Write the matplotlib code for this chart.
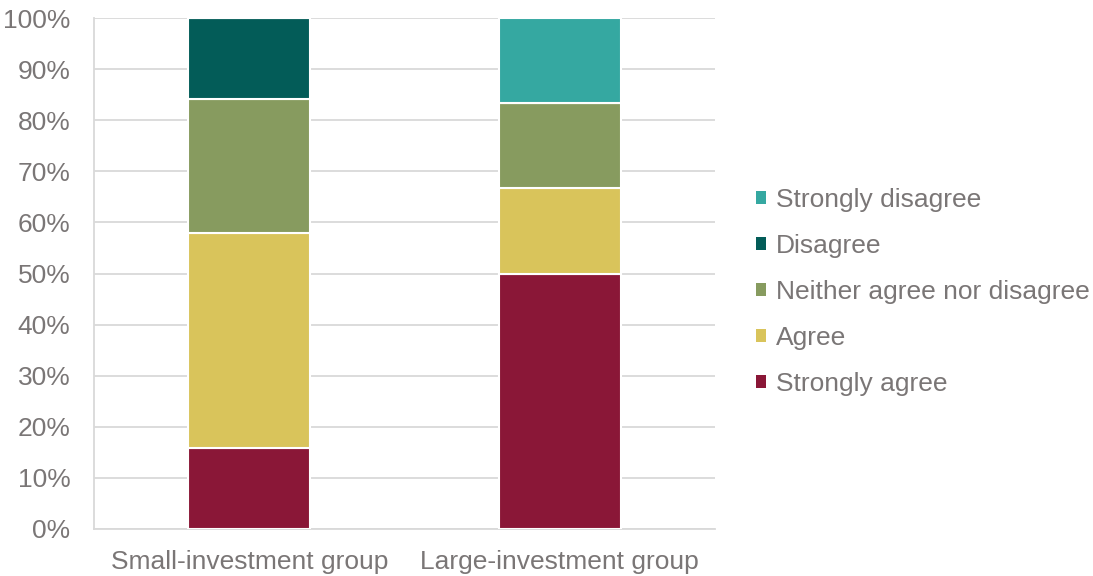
import matplotlib
matplotlib.use("Agg")
import matplotlib.pyplot as plt
from matplotlib.patches import Patch
from matplotlib.ticker import MultipleLocator, PercentFormatter

plt.rcParams['font.family'] = ['Liberation Sans', 'DejaVu Sans']

groups = ["Small-investment group", "Large-investment group"]
categories = ["Strongly agree", "Agree", "Neither agree nor disagree", "Disagree", "Strongly disagree"]
small_group = [15.8, 42.1, 26.3, 15.8, 0.0]
large_group = [50.0, 16.7, 16.7, 0.0, 16.6]
colors = ["#8A1737", "#D9C45B", "#879B5F", "#035C58", "#35A8A1"]

text_color = "#7A7676"
grid_color = "#D9D9D9"

fig = plt.figure(figsize=(10.93, 5.76), dpi=100)
ax = fig.add_axes([94 / 1093, 1 - 529 / 576, (715 - 94) / 1093, (529 - 18) / 576])

x = range(len(groups))
bottoms = [0.0, 0.0]
for i, cat in enumerate(categories):
    vals = [small_group[i], large_group[i]]
    ax.bar(x, vals, width=0.393, bottom=bottoms, color=colors[i],
           edgecolor="white", linewidth=1.5, zorder=3, label=cat)
    bottoms = [b + v for b, v in zip(bottoms, vals)]

ax.set_xlim(-0.5, 1.5)
ax.set_ylim(0, 100)
ax.yaxis.set_major_locator(MultipleLocator(10))
ax.yaxis.set_major_formatter(PercentFormatter(decimals=0))
ax.set_xticks(list(x))
ax.set_xticklabels(groups)
ax.grid(axis="y", color=grid_color, linewidth=1.3, zorder=0)
for side in ["top", "right"]:
    ax.spines[side].set_visible(False)
for side in ["left", "bottom"]:
    ax.spines[side].set_color(grid_color)
    ax.spines[side].set_linewidth(1.3)
ax.tick_params(axis="both", length=0, labelsize=19, colors=text_color)
ax.tick_params(axis="x", pad=15)
ax.tick_params(axis="y", pad=17)

handles = [Patch(facecolor=colors[i], label=categories[i]) for i in reversed(range(len(categories)))]
fig.legend(handles=handles, loc="center left", bbox_to_anchor=(0.692, 0.493),
           frameon=False, fontsize=19, labelcolor=text_color,
           handlelength=0.38, handleheight=0.38, handletextpad=0.36,
           labelspacing=0.83, borderaxespad=0, borderpad=0)

fig.savefig("out.png", dpi=100)
